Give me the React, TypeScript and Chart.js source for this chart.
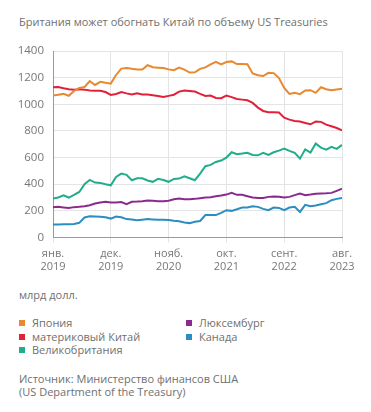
import React, { useEffect, useRef } from 'react';
import { Chart, registerables } from 'chart.js';

Chart.register(...registerables);

const FONT = '"Open Sans", "Noto Sans", sans-serif';
const TEXT = '#6f6f6f';

const title = 'Британия может обогнать Китай по объему US Treasuries';
const unit = 'млрд долл.';
const sourceLines = ['Источник: Министерство финансов США', '(US Department of the Treasury)'];

const months = [
  '2019-01', '2019-02', '2019-03', '2019-04', '2019-05', '2019-06', '2019-07', '2019-08', '2019-09', '2019-10', '2019-11', '2019-12',
  '2020-01', '2020-02', '2020-03', '2020-04', '2020-05', '2020-06', '2020-07', '2020-08', '2020-09', '2020-10', '2020-11', '2020-12',
  '2021-01', '2021-02', '2021-03', '2021-04', '2021-05', '2021-06', '2021-07', '2021-08', '2021-09', '2021-10', '2021-11', '2021-12',
  '2022-01', '2022-02', '2022-03', '2022-04', '2022-05', '2022-06', '2022-07', '2022-08', '2022-09', '2022-10', '2022-11', '2022-12',
  '2023-01', '2023-02', '2023-03', '2023-04', '2023-05', '2023-06', '2023-07', '2023-08',
];

const tickLabels = [
  ['янв.', '2019'],
  ['дек.', '2019'],
  ['нояб.', '2020'],
  ['окт.', '2021'],
  ['сент.', '2022'],
  ['авг.', '2023'],
];
const tickStep = 11;

const japan = [
  1066, 1072, 1078, 1064, 1100, 1122, 1130, 1174, 1145, 1169, 1161, 1155,
  1220, 1268, 1272, 1266, 1262, 1261, 1293, 1278, 1275, 1272, 1262, 1256,
  1276, 1260, 1238, 1240, 1266, 1277, 1300, 1319, 1300, 1317, 1322, 1302,
  1302, 1301, 1232, 1218, 1212, 1236, 1234, 1197, 1122, 1078, 1086, 1076,
  1104, 1106, 1086, 1128, 1113, 1106, 1111, 1116,
];

const china = [
  1127, 1130, 1120, 1113, 1110, 1112, 1110, 1103, 1101, 1102, 1092, 1070,
  1077, 1092, 1082, 1074, 1083, 1074, 1073, 1068, 1062, 1054, 1063, 1072,
  1095, 1104, 1100, 1096, 1078, 1062, 1066, 1047, 1046, 1065, 1054, 1040,
  1035, 1030, 1010, 975, 950, 940, 940, 938, 900, 885, 875, 870,
  860, 850, 870, 868, 847, 835, 822, 805,
];

const uk = [
  292, 300, 317, 300, 320, 342, 400, 432, 412, 410, 400, 392,
  455, 480, 470, 430, 445, 445, 428, 418, 440, 432, 418, 440,
  442, 460, 445, 430, 480, 535, 545, 567, 578, 600, 640, 625,
  630, 636, 620, 617, 635, 620, 640, 652, 667, 650, 635, 592,
  662, 638, 705, 675, 660, 680, 665, 695,
];

const luxembourg = [
  228, 230, 226, 222, 228, 230, 234, 242, 255, 262, 268, 262,
  262, 266, 250, 268, 270, 273, 278, 276, 273, 272, 276, 287,
  292, 288, 287, 290, 295, 300, 302, 310, 315, 322, 335, 320,
  320, 310, 300, 296, 296, 305, 308, 305, 300, 305, 318, 330,
  318, 322, 328, 330, 332, 335, 350, 366,
];

const canada = [
  97, 98, 100, 100, 102, 110, 150, 160, 158, 155, 152, 142,
  158, 152, 138, 135, 130, 134, 138, 136, 133, 134, 132, 125,
  122, 112, 108, 118, 124, 168, 168, 168, 185, 205, 200, 212,
  225, 226, 235, 230, 215, 205, 225, 222, 205, 225, 230, 192,
  245, 235, 240, 250, 258, 280, 290, 297,
];

const seriesNames = ['Япония', 'материковый Китай', 'Великобритания', 'Люксембург', 'Канада'];
const seriesValues = [japan, china, uk, luxembourg, canada];
const seriesColors = ['#e8892f', '#e2203a', '#22ad8a', '#8b2a8e', '#2b8ec2'];
// legend layout: column 1 = first three, column 2 = last two
const legendColumns = [[0, 1, 2], [3, 4]];

export default function App() {
  const ref = useRef<HTMLCanvasElement | null>(null);

  useEffect(() => {
    if (!ref.current) return;
    const chart = new Chart(ref.current, {
      type: 'line',
      data: {
        datasets: seriesValues.map((vals, si) => ({
          label: seriesNames[si],
          data: vals.map((v, i) => ({ x: i, y: v })),
          borderColor: seriesColors[si],
          backgroundColor: seriesColors[si],
          borderWidth: 2,
          pointRadius: 0,
          tension: 0,
          fill: false,
        })),
      },
      options: {
        animation: false,
        responsive: false,
        maintainAspectRatio: false,
        layout: { padding: { left: 0, right: 29, top: 21, bottom: 0 } },
        plugins: { legend: { display: false }, tooltip: { enabled: false }, title: { display: false } },
        scales: {
          x: {
            type: 'linear',
            min: 0,
            max: months.length - 1,
            ticks: {
              stepSize: tickStep,
              autoSkip: false,
              maxRotation: 0,
              padding: 5,
              color: '#777',
              font: { family: FONT, size: 11 },
              callback: (v: any) => {
                const idx = Math.round(Number(v) / tickStep);
                return tickLabels[idx] ?? '';
              },
            },
            grid: { color: '#e4e4e4', tickLength: 5, drawTicks: true, lineWidth: 1 },
            border: { color: '#9a9a9a', width: 1 },
            afterFit: (s: any) => { s.height = 42.5; },
          },
          y: {
            min: 0,
            max: 1400,
            ticks: {
              stepSize: 200,
              padding: 9,
              color: '#777',
              font: { family: FONT, size: 11.5 },
              callback: (v: any) => String(v),
            },
            grid: { color: '#e4e4e4', drawTicks: false, lineWidth: 1 },
            border: { color: '#9a9a9a', width: 1 },
            afterFit: (s: any) => { s.width = 53; },
          },
        },
      },
    });
    return () => chart.destroy();
  }, []);

  const textStyle: React.CSSProperties = {
    position: 'absolute',
    fontFamily: FONT,
    fontSize: 11,
    lineHeight: '13px',
    color: TEXT,
    whiteSpace: 'nowrap',
  };

  return (
    <div style={{ position: 'absolute', left: 0, top: 0, width: 371, height: 412, background: '#fff', overflow: 'hidden' }}>
      <div style={{ ...textStyle, left: 19, top: 15 }}>{title}</div>
      <canvas ref={ref} width={371} height={250} style={{ position: 'absolute', left: 0, top: 30, width: 371, height: 250, display: 'block' }} />
      <div style={{ ...textStyle, left: 19, top: 288 }}>{unit}</div>
      {legendColumns.map((col, ci) =>
        col.map((si, ri) => (
          <div key={si} style={{ ...textStyle, left: ci === 0 ? 19 : 186, top: 316 + ri * 13.5 }}>
            <span style={{ display: 'inline-block', width: 6, height: 6, background: seriesColors[si], marginRight: 7, verticalAlign: 'middle', position: 'relative', top: -1 }} />
            {seriesNames[si]}
          </div>
        ))
      )}
      {sourceLines.map((line, i) => (
        <div key={i} style={{ ...textStyle, left: 19, top: 372 + i * 12.5 }}>{line}</div>
      ))}
    </div>
  );
}
